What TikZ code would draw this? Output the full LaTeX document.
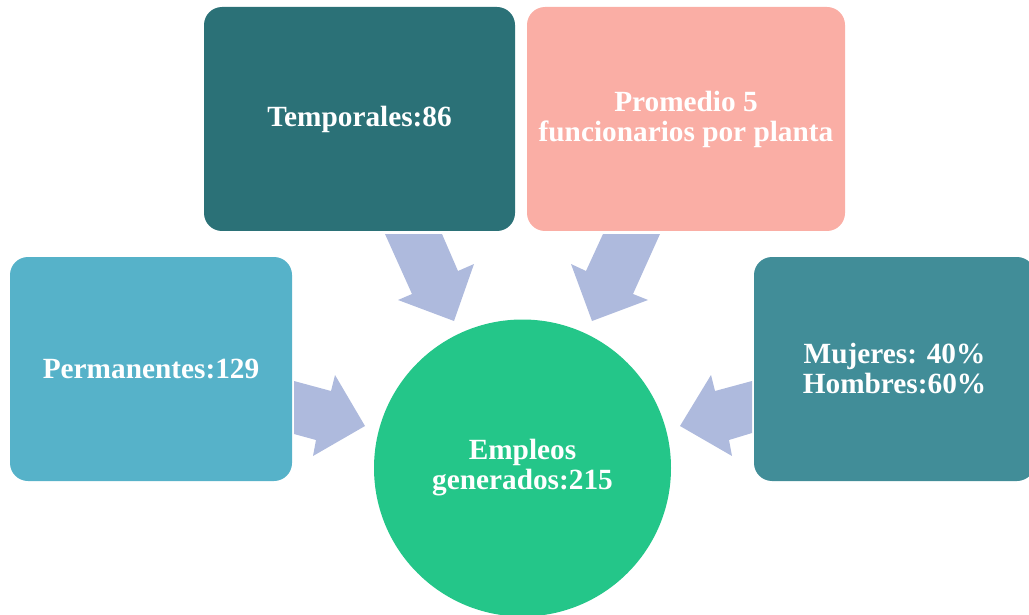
\documentclass[tikz,border=0pt]{standalone}
\usepackage{fontspec}
\setmainfont{Liberation Serif}
\definecolor{permc}{RGB}{86,178,201}
\definecolor{tempc}{RGB}{43,113,119}
\definecolor{promc}{RGB}{250,174,165}
\definecolor{mujc}{RGB}{65,141,152}
\definecolor{empc}{RGB}{36,198,137}
\definecolor{arrowc}{RGB}{174,186,221}
\begin{document}
\begin{tikzpicture}[x=1pt,y=-1pt,
  box/.style={rectangle, rounded corners=18pt, inner sep=0pt, text=white,
    font=\fontsize{29.3}{30}\selectfont\bfseries, align=center,
    minimum height=224pt},
  blockarrow/.style={fill=arrowc, draw=none}]
\useasboundingbox (0,0) rectangle (1029,615);
\clip (0,0) rectangle (1029,615);
% boxes
\node[box, fill=permc, minimum width=282pt] (perm) at (151,369) {Permanentes:129};
\node[box, fill=tempc, minimum width=311pt] (temp) at (359.5,119) {Temporales:86};
\node[box, fill=promc, minimum width=318pt] (prom) at (686,119) {Promedio 5\\funcionarios por planta};
\node[box, fill=mujc, minimum width=281pt] (muj) at (894.5,369) {Mujeres: 40\%\\Hombres:60\%};
\node[circle, fill=empc, minimum size=297pt, inner sep=0pt, text=white,
  font=\fontsize{29.3}{30}\selectfont\bfseries, align=center] (emp) at (522.5,468) {Empleos\\generados:215};
% block arrows
\fill[blockarrow] (294,381) -- (331,391) -- (335,375) -- (365,426) -- (313,456) -- (316,440) -- (294,434) -- cycle;
\fill[blockarrow] (385,234) -- (442,234) -- (458,271) -- (474,264) -- (454,321) -- (398,300) -- (412,294) -- cycle;
\fill[blockarrow] (603,234) -- (660,234) -- (633,294) -- (648,300) -- (592,321) -- (571,264) -- (586,271) -- cycle;
\fill[blockarrow] (752,381) -- (715,391) -- (711,375) -- (680,426) -- (732,456) -- (729,440) -- (752,433) -- cycle;
\end{tikzpicture}
\end{document}
